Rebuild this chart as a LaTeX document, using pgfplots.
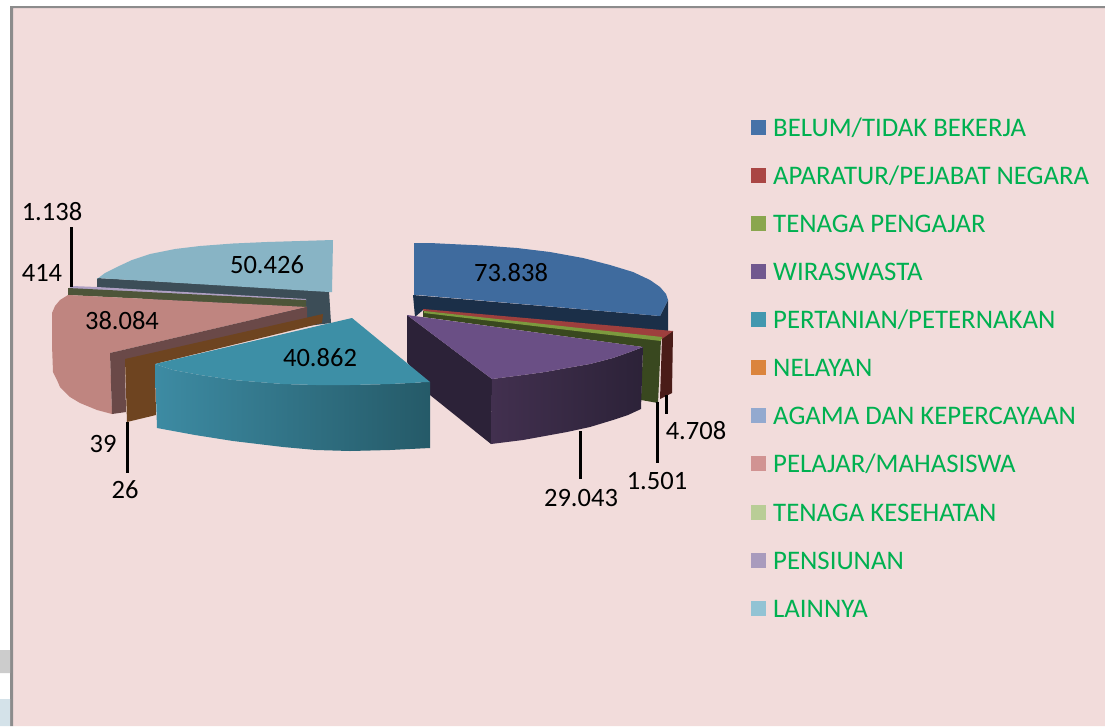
\documentclass[border=0pt]{standalone}
\usepackage{pgfplots}
\pgfplotsset{compat=1.18}
\usepackage{fontspec}
\setmainfont{Carlito}
\definecolor{bgpink}{HTML}{F2DCDB}
\definecolor{frameg}{HTML}{8C8C8C}
\definecolor{txtg}{HTML}{00B050}
\newcommand{\lab}[3]{\node[font=\fontsize{26.5}{28}\selectfont,text=black,inner sep=0pt] at (axis cs:#1,#2) {#3};}
\pgfplotsset{sq/.style={legend image code/.code={\fill[##1,draw=none] (0pt,-4.5pt) rectangle (15pt,10.5pt);}}}
\begin{document}
\begin{tikzpicture}
\begin{axis}[
  scale only axis, width=1105pt, height=726pt,
  xmin=0, xmax=1105, ymin=0, ymax=726, y dir=reverse,
  hide axis, clip=false, no markers,
  every axis plot/.append style={forget plot, line width=0pt},
  legend cell align=left,
  legend style={at={(axis cs:751,118)},anchor=north west,draw=none,fill=none,inner sep=0pt,
    row sep=24.1pt,column sep=7pt,
    nodes={inner sep=0pt,text height=18pt,text depth=6pt,text=txtg,font=\fontsize{26.8}{27}\selectfont}},
]
% page and frame
\addplot[fill=white,draw=none] coordinates {(0,0)(1105,0)(1105,726)(0,726)(0,0)};
\addplot[fill=bgpink,draw=none] coordinates {(13,8)(1105,8)(1105,726)(13,726)(13,8)};
\addplot[fill=frameg,draw=none] coordinates {(10,6)(1105,6)(1105,8)(13,8)(13,726)(10,726)(10,6)};
\addplot[fill=black!20,draw=none] coordinates {(0,650)(10,650)(10,673)(0,673)(0,650)};
\addplot[fill={rgb,255:red,212;green,226;blue,233},draw=none] coordinates {(0,699)(10,699)(10,726)(0,726)(0,699)};

% LAINNYA
\addplot[fill={rgb,255:red,60;green,77;blue,87},draw=none] coordinates {(97,278)(329,291)(331,323)(307,326)(97,290)(97,278)};
\addplot[fill={rgb,255:red,136;green,180;blue,197},draw=none] coordinates {(97,279)(105,273)(117,267)(132,260)(150,254)(175,249)(200,246)(233,243.5)(267,242)(300,241)(333,240)(332,292)(329,292)(97,278)(97,279)};
% PENSIUNAN + TENAGA KESEHATAN
\addplot[fill={rgb,255:red,175;green,160;blue,195},draw=none] coordinates {(72,286)(97,287)(306,299)(306,301)(68,289)(72,286)};
\addplot[fill={rgb,255:red,77;green,85;blue,57},draw=none] coordinates {(68,288)(306,300)(306,307)(68,295)(68,288)};
% PELAJAR
\addplot[fill={rgb,255:red,191;green,133;blue,128},draw=none] coordinates {(68,295)(307,307)(110,353)(112,414)(97,410)(80,403)(70,397)(60,387)(57,380)(53,372)(52,345)(52,313)(55,306)(60,300)(68,295)};
\addplot[fill={rgb,255:red,106;green,73;blue,72},draw=none] coordinates {(110,353)(307,307)(307,320)(125,365)(126,412)(112,414)(110,353)};
% NELAYAN + AGAMA
\addplot[fill={rgb,255:red,110;green,68;blue,32},draw=none] coordinates {(125,359)(323,314)(322,323)(155,364)(156,415)(127,422)(125,359)};

% BELUM/TIDAK BEKERJA
\addplot[fill={rgb,255:red,27;green,47;blue,72},draw=none] coordinates {(413,295)(660,316)(668,300)(668,332)(423,310)(415,317)(413,295)};
\addplot[fill={rgb,255:red,63;green,107;blue,158},draw=none] coordinates {(414,243)(430,243)(450,244)(483,245.5)(517,248)(550,252)(583,258)(610,265)(633,272)(650,280)(660,287)(666,294)(668,300)(660,316)(418,295)(414,295)(414,243)};
% APARATUR
\addplot[fill={rgb,255:red,74;green,28;blue,24},draw=none] coordinates {(673,331)(672,393)(660,399)(662,338)(673,331)};
\addplot[fill={rgb,255:red,158;green,63;blue,61},draw=none] coordinates {(423,309)(673,331)(662,339)(424,313)(423,309)};
% TENAGA PENGAJAR
\addplot[fill={rgb,255:red,57;green,72;blue,31},draw=none] coordinates {(423,311)(661,339)(658,403)(641,400)(643,347)(423,317)(423,311)};
\addplot[fill={rgb,255:red,124;green,154;blue,62},draw=none] coordinates {(424,311)(662,337)(661,341)(424,313)(424,311)};
% WIRASWASTA
\addplot[fill={rgb,255:red,44;green,34;blue,56},draw=none] coordinates {(407,315)(492,379)(491,444)(430,395)(407,362)(407,315)};
\addplot[left color={rgb,255:red,66;green,48;blue,79},right color={rgb,255:red,44;green,34;blue,56},draw=none] coordinates {(492,379)(523,375)(545,372)(567,368)(590,364)(613,358)(630,352)(643,347)(641,409)(628,415)(613,420)(590,427)(567,432)(545,436)(523,440)(491,444)(492,379)};
\addplot[fill={rgb,255:red,106;green,79;blue,133},draw=none] coordinates {(407,315)(643,347)(630,352)(613,358)(590,364)(567,368)(545,372)(523,375)(492,379)(407,315)};
% PERTANIAN
\addplot[left color={rgb,255:red,61;green,139;blue,163},middle color={rgb,255:red,48;green,112;blue,130},right color={rgb,255:red,37;green,90;blue,104},draw=none] coordinates {(155,364)(173,370)(200,375)(233,380)(283,384)(316,385)(350,385)(390,384)(430,382)(430,448)(390,450)(350,451)(316,450)(283,447)(233,441)(195,435)(157,428)(155,364)};
\addplot[fill={rgb,255:red,61;green,143;blue,166},draw=none] coordinates {(155,364)(352,318)(430,382)(390,384)(350,385)(316,385)(283,384)(233,380)(200,375)(173,370)(155,364)};

% leaders
\addplot[black,line width=3pt] coordinates {(71,227)(71,287)};
\addplot[black,line width=3pt] coordinates {(127,422)(127,473)};
\addplot[black,line width=3pt] coordinates {(580,431)(580,479)};
\addplot[black,line width=3pt] coordinates {(657,402)(657,463)};
\addplot[black,line width=3pt] coordinates {(666,395)(666,414)};

% value labels
\lab{52}{212}{1.138}
\lab{42}{273}{414}
\lab{267}{265}{50.426}
\lab{122}{321}{38.084}
\lab{320}{358}{40.862}
\lab{103}{444}{39}
\lab{125}{490}{26}
\lab{511}{273}{73.838}
\lab{581}{498}{29.043}
\lab{657}{481}{1.501}
\lab{696}{431}{4.708}

% legend
\addlegendimage{sq,fill={rgb,255:red,70;green,114;blue,168}}\addlegendentry{BELUM/TIDAK BEKERJA}
\addlegendimage{sq,fill={rgb,255:red,170;green,70;blue,68}}\addlegendentry{APARATUR/PEJABAT NEGARA}
\addlegendimage{sq,fill={rgb,255:red,138;green,166;blue,78}}\addlegendentry{TENAGA PENGAJAR}
\addlegendimage{sq,fill={rgb,255:red,113;green,88;blue,143}}\addlegendentry{WIRASWASTA}
\addlegendimage{sq,fill={rgb,255:red,66;green,152;blue,175}}\addlegendentry{PERTANIAN/PETERNAKAN}
\addlegendimage{sq,fill={rgb,255:red,219;green,132;blue,61}}\addlegendentry{NELAYAN}
\addlegendimage{sq,fill={rgb,255:red,147;green,169;blue,207}}\addlegendentry{AGAMA DAN KEPERCAYAAN}
\addlegendimage{sq,fill={rgb,255:red,209;green,147;blue,146}}\addlegendentry{PELAJAR/MAHASISWA}
\addlegendimage{sq,fill={rgb,255:red,185;green,205;blue,150}}\addlegendentry{TENAGA KESEHATAN}
\addlegendimage{sq,fill={rgb,255:red,169;green,155;blue,189}}\addlegendentry{PENSIUNAN}
\addlegendimage{sq,fill={rgb,255:red,146;green,195;blue,212}}\addlegendentry{LAINNYA}
\end{axis}
\end{tikzpicture}
\end{document}
